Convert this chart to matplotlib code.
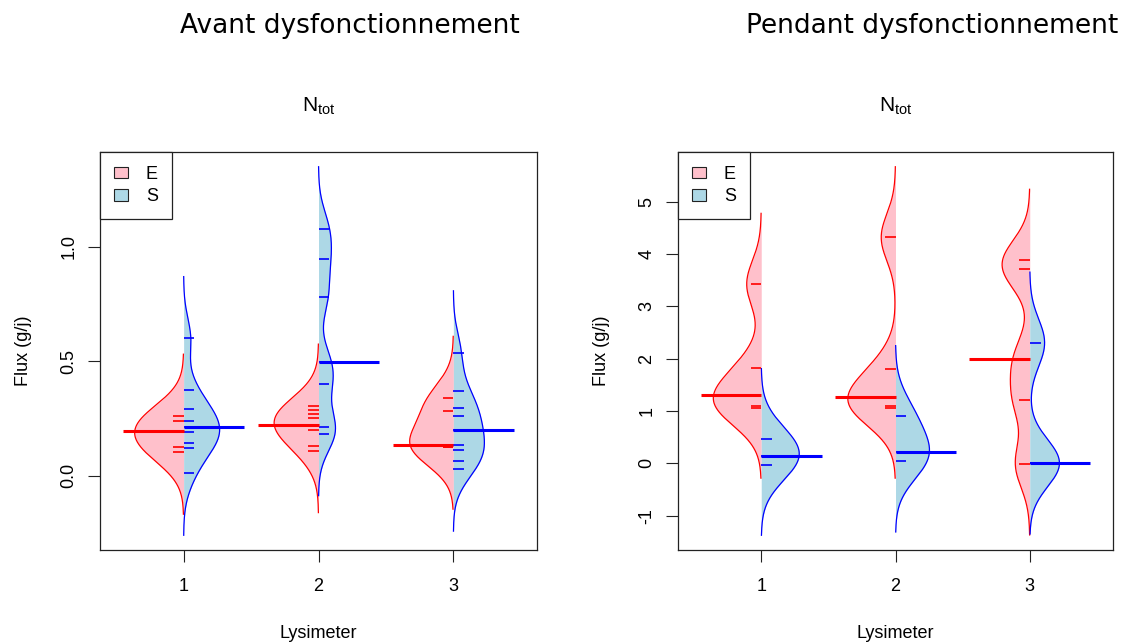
import numpy as np
import matplotlib
matplotlib.use("Agg")
import matplotlib.pyplot as plt
from matplotlib.patches import Patch

# ---------------- data ----------------
lysimeters = ["1", "2", "3"]
series_names = ["E", "S"]
panel_titles = ["Avant dysfonctionnement", "Pendant dysfonctionnement"]

avant_E = [
    [0.261, 0.239, 0.195, 0.124, 0.102],
    [0.305, 0.286, 0.268, 0.251, 0.221, 0.221, 0.198, 0.128, 0.109],
    [0.339, 0.283, 0.136, 0.124, 0.124],
]
avant_S = [
    [0.600, 0.375, 0.293, 0.239, 0.215, 0.192, 0.143, 0.121, 0.010],
    [1.080, 0.947, 0.782, 0.497, 0.401, 0.212, 0.183],
    [0.538, 0.369, 0.298, 0.261, 0.202, 0.136, 0.114, 0.065, 0.028],
]
pendant_E = [
    [3.429, 1.814, 1.303, 1.090, 1.067],
    [4.320, 1.795, 1.271, 1.090, 1.067],
    [3.889, 3.710, 1.987, 1.207, -0.019],
]
pendant_S = [
    [0.460, 0.140, -0.025],
    [0.900, 0.217, 0.038],
    [2.305, 0.010, 0.000],
]

avant_yticks = [0.0, 0.5, 1.0]
avant_yticklabels = ["0.0", "0.5", "1.0"]
pendant_yticks = [-1, 0, 1, 2, 3, 4, 5]
pendant_yticklabels = ["-1", "0", "1", "2", "3", "4", "5"]

# ---------------- style ----------------
bandwidths = [0.09, 0.45]              # kernel bandwidth per panel
half_widths_E = [[0.363, 0.329, 0.324], [0.357, 0.355, 0.206]]
half_widths_S = [[0.267, 0.126, 0.230], [0.283, 0.253, 0.221]]
fill_cols = {"E": "#FFC0CB", "S": "#ADD8E6"}
line_cols = {"E": "#FF0000", "S": "#0000FF"}
beanline_len = 0.08
median_len = 0.45
R_FONT = "Liberation Sans"

W, H = 1123, 642
fig = plt.figure(figsize=(W / 100, H / 100), dpi=100)
axes_px = [(100, 152, 537, 550), (678, 152, 1113, 550)]
title_px = [(349.5, 33), (932.5, 33)]


def kde(vals, bw, grid):
    v = np.asarray(vals, dtype=float)[:, None]
    z = (grid[None, :] - v) / bw
    return np.exp(-0.5 * z ** 2).sum(axis=0) / (len(vals) * bw * np.sqrt(2 * np.pi))


panels = [(avant_E, avant_S, avant_yticks, avant_yticklabels),
          (pendant_E, pendant_S, pendant_yticks, pendant_yticklabels)]

for p, (dataE, dataS, yt, ytl) in enumerate(panels):
    x0, y0, x1, y1 = axes_px[p]
    ax = fig.add_axes([x0 / W, 1 - y1 / H, (x1 - x0) / W, (y1 - y0) / H])
    bw = bandwidths[p]
    lo, hi = np.inf, -np.inf
    for i in range(len(lysimeters)):
        c = i + 1
        for key, data, hw, sgn in (("E", dataE[i], half_widths_E[p][i], -1),
                                   ("S", dataS[i], half_widths_S[p][i], 1)):
            vals = np.asarray(data, dtype=float)
            grid = np.linspace(vals.min() - 3 * bw, vals.max() + 3 * bw, 600)
            d = kde(vals, bw, grid)
            d = d / d.max() * hw
            lo, hi = min(lo, grid[0]), max(hi, grid[-1])
            ax.fill_betweenx(grid, c, c + sgn * d, color=fill_cols[key], lw=0, zorder=1)
            ax.plot(c + sgn * d, grid, color=line_cols[key], lw=0.9, zorder=2)
    for i in range(len(lysimeters)):
        c = i + 1
        for key, data, sgn in (("E", dataE[i], -1), ("S", dataS[i], 1)):
            ax.hlines(data, c, c + sgn * beanline_len, color=line_cols[key], lw=1.2, zorder=3)
            ax.hlines(np.median(data), c, c + sgn * median_len, color=line_cols[key],
                      lw=2.2, zorder=4)
    pad = 0.04 * (hi - lo)
    ax.set_ylim(lo - pad, hi + pad)
    ax.set_xlim(0.38, 3.62)
    ax.set_xticks(range(1, len(lysimeters) + 1))
    ax.set_xticklabels(lysimeters, fontsize=13, family=R_FONT)
    ax.set_yticks(yt)
    ax.set_yticklabels(ytl, fontsize=13, family=R_FONT, rotation=90, va="center")
    ax.tick_params(axis="x", length=8.4, width=0.8, pad=12, color="#222222")
    ax.tick_params(axis="y", length=8.4, width=0.8, pad=8, color="#222222")
    for s in ax.spines.values():
        s.set_linewidth(0.9)
        s.set_color("#222222")
    ax.set_xlabel("Lysimeter", fontsize=13, family=R_FONT, labelpad=21)
    ax.set_ylabel("Flux (g/j)", fontsize=13, family=R_FONT, labelpad=20)
    ax.set_title(r"$\mathregular{N_{tot}}$", fontsize=15, family=R_FONT, pad=29)
    handles = [Patch(facecolor=fill_cols[k], edgecolor="#222222", lw=0.8) for k in series_names]
    leg = ax.legend(handles, series_names, loc="upper left", borderaxespad=0,
                    fancybox=False, framealpha=1, edgecolor="#222222",
                    prop={"family": R_FONT, "size": 13}, handlelength=0.78,
                    handleheight=0.6, handletextpad=1.0, borderpad=0.76,
                    labelspacing=0.3)
    leg.get_frame().set_linewidth(0.9)
    fig.text(title_px[p][0] / W, 1 - title_px[p][1] / H, panel_titles[p],
             ha="center", va="baseline", fontsize=19, family="DejaVu Sans")

fig.savefig("out.png", dpi=100)
